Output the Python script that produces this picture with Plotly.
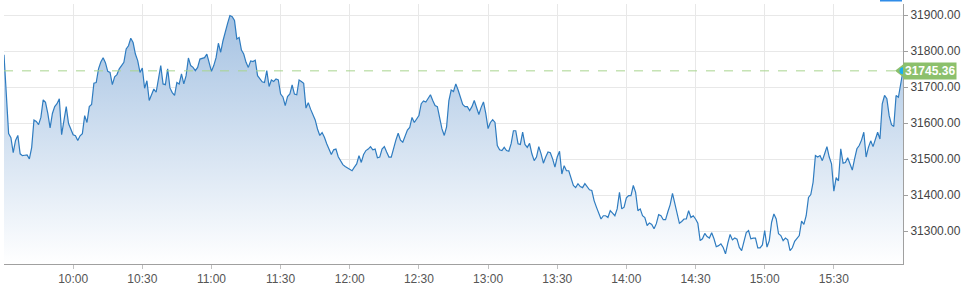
import plotly.graph_objects as go
import pandas as pd

# Intraday index level, one value per minute from 09:30 to 16:00
index_values = [
    31790, 31670, 31571, 31560, 31518, 31552, 31566, 31515, 31510, 31511,
    31512, 31501, 31532, 31609, 31605, 31596, 31616, 31665, 31658, 31627,
    31587, 31627, 31646, 31654, 31668, 31568, 31613, 31646, 31599, 31585,
    31568, 31565, 31552, 31565, 31571, 31621, 31602, 31646, 31652, 31711,
    31713, 31751, 31770, 31782, 31768, 31744, 31741, 31707, 31729, 31735,
    31751, 31760, 31769, 31806, 31815, 31836, 31824, 31792, 31774, 31741,
    31753, 31697, 31718, 31663, 31677, 31695, 31686, 31718, 31760, 31709,
    31707, 31751, 31698, 31685, 31677, 31713, 31709, 31737, 31709, 31732,
    31781, 31760, 31755, 31746, 31755, 31778, 31781, 31782, 31792, 31769,
    31744, 31760, 31782, 31822, 31797, 31829, 31857, 31877, 31899, 31896,
    31885, 31834, 31838, 31803, 31792, 31769, 31755, 31773, 31771, 31775,
    31732, 31723, 31715, 31713, 31746, 31702, 31720, 31716, 31723, 31720,
    31681, 31673, 31649, 31674, 31681, 31706, 31681, 31679, 31720, 31716,
    31711, 31642, 31657, 31639, 31626, 31609, 31584, 31566, 31574, 31561,
    31543, 31528, 31513, 31526, 31528, 31507, 31496, 31485, 31480, 31476,
    31471, 31468, 31478, 31487, 31510, 31491, 31513, 31524, 31528, 31535,
    31526, 31528, 31504, 31506, 31528, 31535, 31520, 31506, 31506, 31533,
    31553, 31572, 31553, 31547, 31567, 31581, 31588, 31616, 31602, 31613,
    31621, 31654, 31662, 31659, 31668, 31679, 31663, 31649, 31646, 31613,
    31584, 31566, 31590, 31663, 31692, 31688, 31709, 31692, 31668, 31652,
    31646, 31646, 31635, 31646, 31663, 31646, 31624, 31644, 31659, 31627,
    31585, 31602, 31610, 31602, 31538, 31526, 31524, 31533, 31524, 31522,
    31543, 31579, 31579, 31543, 31541, 31575, 31541, 31533, 31544, 31515,
    31496, 31506, 31535, 31515, 31489, 31506, 31520, 31518, 31501, 31478,
    31506, 31522, 31459, 31482, 31468, 31468, 31450, 31427, 31421, 31432,
    31424, 31421, 31432, 31424, 31415, 31413, 31385, 31367, 31350, 31334,
    31343, 31343, 31338, 31357, 31350, 31343, 31362, 31408, 31362, 31367,
    31393, 31399, 31399, 31427, 31408, 31357, 31362, 31343, 31338, 31316,
    31323, 31319, 31307, 31321, 31346, 31343, 31332, 31332, 31354, 31374,
    31405, 31376, 31350, 31322, 31327, 31334, 31334, 31357, 31338, 31343,
    31334, 31322, 31274, 31279, 31294, 31285, 31281, 31296, 31279, 31257,
    31260, 31265, 31255, 31237, 31267, 31291, 31276, 31281, 31278, 31255,
    31246, 31276, 31296, 31302, 31279, 31281, 31281, 31254, 31254, 31262,
    31302, 31256, 31274, 31325, 31348, 31334, 31293, 31288, 31274, 31281,
    31276, 31246, 31254, 31272, 31279, 31288, 31328, 31319, 31343, 31394,
    31402, 31436, 31510, 31506, 31510, 31496, 31515, 31535, 31506, 31487,
    31411, 31449, 31440, 31529, 31489, 31491, 31504, 31487, 31470, 31501,
    31529, 31538, 31553, 31575, 31506, 31533, 31551, 31535, 31556, 31575,
    31556, 31654, 31677, 31668, 31621, 31596, 31591, 31677, 31672, 31710,
    31745.36,
]
session_day = "2024-01-02"
session_start = "09:30"
session_end = "16:00"
x_tick_labels = ["10:00", "10:30", "11:00", "11:30", "12:00", "12:30",
                 "13:00", "13:30", "14:00", "14:30", "15:00", "15:30"]
y_tick_values = [31300, 31400, 31500, 31600, 31700, 31800, 31900]
last_value = index_values[-1]

times = pd.date_range(f"{session_day} {session_start}", periods=len(index_values), freq="min")
tick_times = [f"{session_day} {t}" for t in x_tick_labels]

LINE = "#2f7cc0"
GREEN = "#8cc06c"
FONT = "Liberation Sans, Arial, sans-serif"

fig = go.Figure()
fig.add_trace(go.Scatter(
    x=times, y=index_values, mode="lines",
    line=dict(color=LINE, width=1.2),
    fill="tozeroy",
    fillgradient=dict(type="vertical",
                      colorscale=[[0, "rgba(255,255,255,1)"], [1, "rgba(165,194,226,1)"]],
                      start=31209, stop=31900),
    hoverinfo="skip", showlegend=False,
))

# dashed level line of the last value
fig.add_shape(type="line", xref="paper", x0=0, x1=1, yref="y", y0=last_value, y1=last_value,
              line=dict(color="#a9d48f", width=1, dash="dash"), layer="above")
# arrow tip of the price flag
fig.add_shape(type="path", xref="paper", yref="y", xsizemode="pixel", ysizemode="pixel",
              xanchor=1, yanchor=last_value, path="M -8,0 L 1,7 L 1,-7 Z",
              fillcolor=GREEN, line=dict(width=0), layer="above")
# last point dot
fig.add_shape(type="circle", xref="x", yref="y", xsizemode="pixel", ysizemode="pixel",
              xanchor=times[-1], yanchor=last_value, x0=-3.5, x1=3.5, y0=-3.5, y1=3.5,
              fillcolor="#1aaef0", line=dict(width=0), layer="above")
# small blue bar at top right
fig.add_shape(type="rect", xref="paper", yref="paper", x0=0.9744, x1=0.9989, y0=1.0096, y1=1.02,
              fillcolor="#2f8ce8", line=dict(width=0), layer="above")

fig.add_annotation(x=1, xref="paper", y=last_value, yref="y", xanchor="left", yanchor="middle",
                   text="<b>%.2f</b>" % last_value, showarrow=False,
                   font=dict(family=FONT, size=12, color="white"),
                   bgcolor=GREEN, borderpad=1, xshift=0)

fig.update_layout(
    width=965, height=291,
    margin=dict(l=4, r=62, t=4, b=27),
    paper_bgcolor="white", plot_bgcolor="white",
    font=dict(family=FONT, size=12, color="#444"),
    xaxis=dict(
        type="date",
        range=[f"{session_day} {session_start}", f"{session_day} {session_end}"],
        tickvals=tick_times, ticktext=x_tick_labels,
        showgrid=True, gridcolor="#e8e8e8", gridwidth=1,
        showline=True, linecolor="#a0a0a0", linewidth=1,
        ticks="outside", ticklen=4, tickcolor="#c0c0c0",
        tickfont=dict(family=FONT, size=12, color="#555"),
        zeroline=False, fixedrange=True,
    ),
    yaxis=dict(
        side="right",
        range=[31209, 31931],
        tickvals=y_tick_values, tickformat=".2f",
        showgrid=True, gridcolor="#e8e8e8", gridwidth=1,
        showline=True, linecolor="#a0a0a0", linewidth=1,
        ticks="outside", ticklen=4, tickcolor="#a0a0a0",
        tickfont=dict(family=FONT, size=12, color="#444"),
        zeroline=False, fixedrange=True,
    ),
)

fig.write_html("out.html")
